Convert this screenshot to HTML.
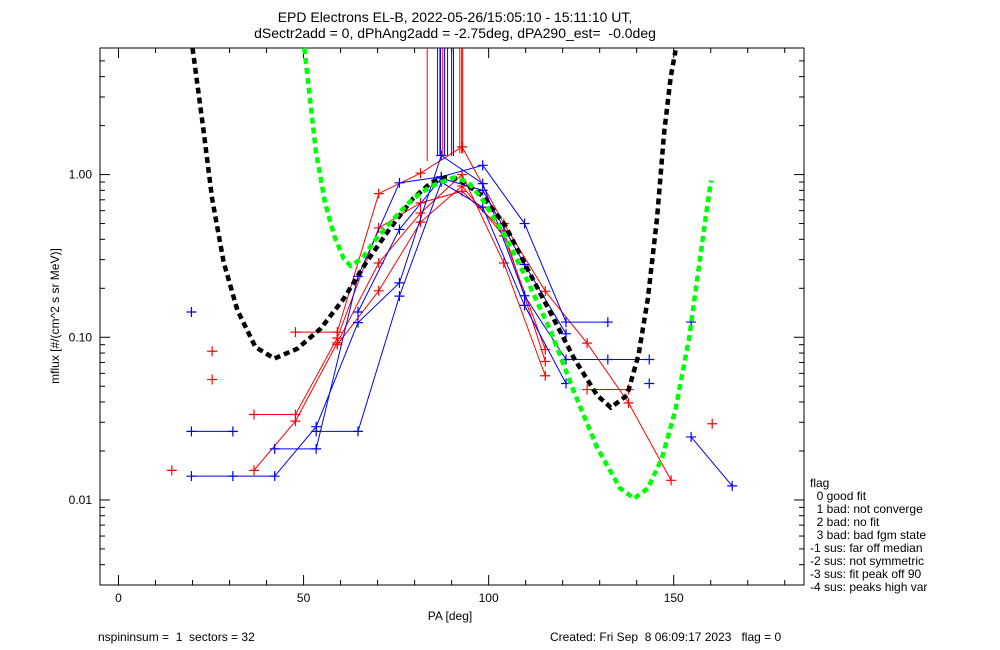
<!DOCTYPE html>
<html><head><meta charset="utf-8"><style>
body{margin:0;background:#fff;}
svg{display:block;font-family:"Liberation Sans","DejaVu Sans",sans-serif;}
text{fill:#000;}
</style></head><body>
<svg id="chart" width="1000" height="650" viewBox="0 0 1000 650" xmlns="http://www.w3.org/2000/svg">
<rect width="1000" height="650" fill="#fff"/>
<text x="455" y="22" font-size="14" text-anchor="middle">EPD Electrons EL-B, 2022-05-26/15:05:10 - 15:11:10 UT,</text>
<text x="455" y="38" font-size="14" text-anchor="middle">dSectr2add = 0, dPhAng2add = -2.75deg, dPA290_est=&#160;&#160;-0.0deg</text>
<text transform="translate(59,316) rotate(-90)" font-size="12" text-anchor="middle">mflux [#/(cm^2 s sr MeV)]</text>
<text x="450" y="620" font-size="12" text-anchor="middle">PA [deg]</text>
<text x="98" y="641" font-size="12">nspininsum =&#160;&#160;1&#160;&#160;sectors = 32</text>
<text x="550" y="641" font-size="12">Created: Fri Sep&#160;&#160;8 06:09:17 2023&#160;&#160;&#160;flag = 0</text>
<g font-size="12">
<text x="810" y="487">flag</text>
<text x="810" y="500">&#160;&#160;0 good fit</text>
<text x="810" y="513">&#160;&#160;1 bad: not converge</text>
<text x="810" y="526">&#160;&#160;2 bad: no fit</text>
<text x="810" y="539">&#160;&#160;3 bad: bad fgm state</text>
<text x="810" y="552">-1 sus: far off median</text>
<text x="810" y="565">-2 sus: not symmetric</text>
<text x="810" y="578">-3 sus: fit peak off 90</text>
<text x="810" y="591">-4 sus: peaks high var</text>
</g>
<g id="plot"></g>
</svg>
<script>
const xTicks=[0,50,100,150];
const yTicks=[0.01,0.1,1];
const yTickLabels=["0.01","0.10","1.00"];
const blackFitPA=[20,22.8,25.3,28.4,32.1,37,42.1,48.3,54.6,60.8,67,73.3,79.5,84.5,88.2,91.9,98.2,104.4,110.6,116.9,123.1,129.3,133,137.4,140.5,143,145.5,147.4,149.2,150.5];
const blackFitFlux=[6,2.0,0.71,0.29,0.147,0.087,0.074,0.085,0.113,0.172,0.29,0.465,0.71,0.896,0.96,0.94,0.745,0.49,0.26,0.139,0.074,0.044,0.037,0.044,0.078,0.172,0.54,1.8,4,5.8];
const greenFitPA=[50.2,53.3,55.8,58.3,60.8,62.7,65.8,69.5,74.5,79.5,84.5,90.7,94.4,98.2,104.4,110.6,116.9,123.1,129.3,135.5,139.3,143,146.8,150.5,154.2,156.7,158.6,160.1];
const greenFitFlux=[6,1.4,0.67,0.42,0.305,0.275,0.305,0.4,0.54,0.71,0.85,0.96,0.9,0.71,0.42,0.22,0.107,0.046,0.021,0.0118,0.0102,0.0118,0.018,0.036,0.1,0.26,0.54,0.92];
const redSeries=[
 [[36.6,.0152],[47.8,.0305],[59.1,.0924],[70.3,.286],[81.6,.58],[92.8,1.0],[104.1,.286],[115.3,.058]],
 [[36.6,.0335],[47.8,.0335],[59.1,.099],[70.3,.47],[81.6,.67],[92.8,.79],[104.1,.45],[115.3,.071]],
 [[47.8,.1076],[59.1,.1076],[70.3,.764],[81.6,1.02],[92.8,1.48],[104.1,.5],[115.3,.192],[126.6,.092],[137.8,.0395],[149.3,.0132]],
 [[59.1,.09],[70.3,.193],[81.6,.51],[92.8,.85],[104.1,.42],[115.3,.084]],
 [[126.6,.0477],[137.8,.0477]],
 [[14.4,.0152]],[[25.3,.082]],[[25.3,.055]],[[160.4,.0294]]
];
const blueSeries=[
 [[19.7,.014],[30.9,.014],[42.2,.014],[53.4,.0282],[64.7,.123],[75.9,.216],[87.2,1.31],[98.4,.88],[109.7,.18],[120.9,.073],[132.2,.073],[143.4,.073]],
 [[42.2,.0206],[53.4,.0206],[64.7,.237],[75.9,.89],[87.2,.97],[98.4,1.14],[109.7,.50],[120.9,.124],[132.2,.124]],
 [[53.4,.0264],[64.7,.0264],[75.9,.179],[87.2,.9],[98.4,.63],[109.7,.157],[120.9,.052]],
 [[64.7,.143],[75.9,.46],[87.2,.95],[98.4,.8],[109.7,.28],[120.9,.105]],
 [[19.7,.0264],[30.9,.0264]],
 [[154.7,.0244],[165.8,.0122]],
 [[19.7,.143]],[[143.4,.052]],[[154.7,.124]]
];
const redVertPA=[83.4,86.8,87.6,92.2,92.7,93.0];
const redVertFlux=[1.21,1.3,1.3,1.35,1.35,1.35];
const blueVertPA=[86.2,87.0,88.1,88.9,90.0,90.5];
const blueVertFlux=[1.3,1.3,1.3,1.3,1.3,1.3];

const L=100,R=804,T=48,B=585,XMIN=-5,XMAX=185.2,YMIN=0.003,YMAX=6;
const NS="http://www.w3.org/2000/svg";
const g=document.getElementById('plot');
function sx(v){return L+(v-XMIN)/(XMAX-XMIN)*(R-L);}
function sy(v){return B-(Math.log10(v)-Math.log10(YMIN))/(Math.log10(YMAX)-Math.log10(YMIN))*(B-T);}
function mk(tag,a){const e=document.createElementNS(NS,tag);for(const k in a)e.setAttribute(k,a[k]);g.appendChild(e);return e;}
function cy(v){return Math.max(T,Math.min(B,sy(v)));}

let fr=mk('rect',{x:L,y:T,width:R-L,height:B-T,fill:'none',stroke:'#000','stroke-width':1});


for(let d=0;d<=180;d+=10){
 const x=sx(d);const len=(d%50===0)?10:5;
 let t=mk('line',{x1:x,x2:x,y1:B,y2:B-len,stroke:'#000'});
 
 
 let t2=mk('line',{x1:x,x2:x,y1:T,y2:T+len,stroke:'#000'});
 
 
}
xTicks.forEach(d=>{
 let t=mk('text',{x:sx(d),y:B+17,'font-size':12,'text-anchor':'middle'});t.textContent=String(d);
 
 
});
for(let e=-3;e<=0;e++){for(let m=1;m<=9;m++){
 const v=m*Math.pow(10,e);if(v<YMIN||v>YMAX)continue;const y=sy(v);const len=m===1?10:5;
 let a=mk('line',{x1:L,x2:L+len,y1:y,y2:y,stroke:'#000'});
 
 
 let b=mk('line',{x1:R,x2:R-len,y1:y,y2:y,stroke:'#000'});
 
 
}}
yTicks.forEach((v,i)=>{
 let t=mk('text',{x:L-8,y:sy(v)+4,'font-size':12,'text-anchor':'end'});t.textContent=yTickLabels[i];
 
 
});
redVertPA.forEach((p,i)=>{
 let l=mk('line',{x1:sx(p),x2:sx(p),y1:T,y2:sy(redVertFlux[i]),stroke:'#f00','stroke-width':1});
 
 
});
blueVertPA.forEach((p,i)=>{
 let l=mk('line',{x1:sx(p),x2:sx(p),y1:T,y2:sy(blueVertFlux[i]),stroke:'#00f','stroke-width':1});
 
 
});
function series(arr,col,name){
 arr.forEach(s=>{
  if(s.length>1){
   let p=mk('polyline',{points:s.map(q=>sx(q[0])+','+sy(q[1])).join(' '),fill:'none',stroke:col,'stroke-width':1});
   
   
  }
  s.forEach(q=>{
   const x=sx(q[0]),y=sy(q[1]);
   let c=mk('path',{d:`M${x-5},${y}H${x+5}M${x},${y-5}V${y+5}`,stroke:col,'stroke-width':1.2,fill:'none'});
   
   
  });
 });
}
series(redSeries,'#f00','red-series');
series(blueSeries,'#00f','blue-series');
function fit(px,fl,col,name){
 let p=mk('polyline',{points:px.map((v,i)=>sx(v)+','+cy(fl[i])).join(' '),fill:'none',stroke:col,'stroke-width':4.5,'stroke-dasharray':'6 4'});
 
 
}
fit(blackFitPA,blackFitFlux,'#000','black-fit-curve');
fit(greenFitPA,greenFitFlux,'#0f0','green-fit-curve');
</script>
</body></html>
